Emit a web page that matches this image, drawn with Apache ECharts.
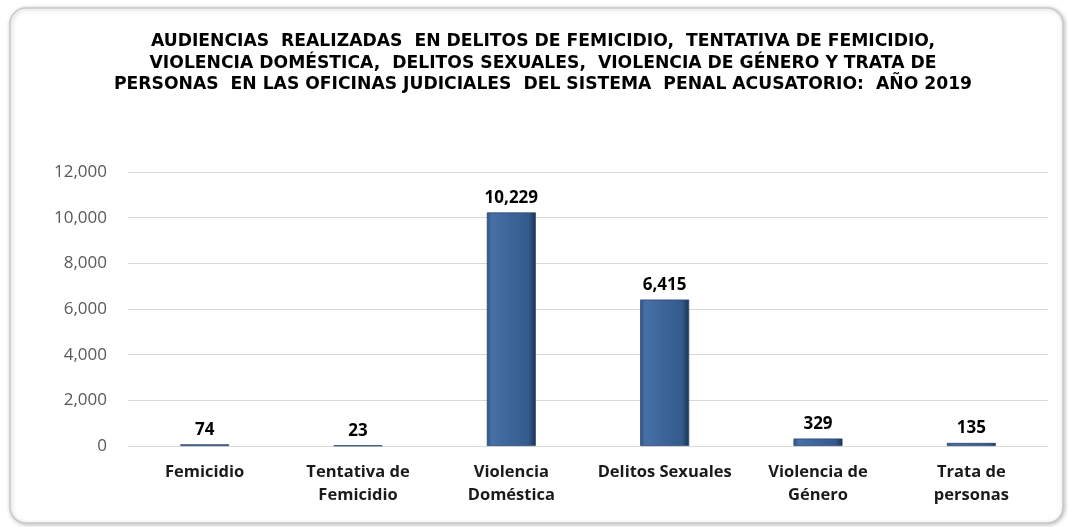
<!DOCTYPE html>
<html>
<head>
<meta charset="utf-8">
<script src="https://cdn.jsdelivr.net/npm/echarts@6/dist/echarts.min.js"></script>
<style>
  html, body { margin: 0; padding: 0; background: #fff; }
  #chart { width: 1068px; height: 527px; }
</style>
</head>
<body>
<div id="chart"></div>
<script>
const categories = ['Femicidio', 'Tentativa de\nFemicidio', 'Violencia\nDoméstica', 'Delitos Sexuales', 'Violencia de\nGénero', 'Trata de\npersonas']
const audiencias = [74, 23, 10229, 6415, 329, 135]
const titleText = 'AUDIENCIAS  REALIZADAS  EN DELITOS DE FEMICIDIO,  TENTATIVA DE FEMICIDIO,\nVIOLENCIA DOMÉSTICA,  DELITOS SEXUALES,  VIOLENCIA DE GÉNERO Y TRATA DE\nPERSONAS  EN LAS OFICINAS JUDICIALES  DEL SISTEMA  PENAL ACUSATORIO:  AÑO 2019'

const fmt = v => Number(v).toLocaleString('en-US')

const chart = echarts.init(document.getElementById('chart'), null, { renderer: 'canvas' })

const barColor = new echarts.graphic.LinearGradient(0, 0, 1, 0, [
  { offset: 0, color: '#2e5283' },
  { offset: 0.1, color: '#4670a6' },
  { offset: 0.5, color: '#3d6499' },
  { offset: 0.85, color: '#355b8c' },
  { offset: 1, color: '#1b3352' }
])

chart.setOption({
  backgroundColor: '#fff',
  animation: false,
  graphic: [{
    type: 'rect',
    z: -10,
    shape: { x: 10, y: 8, width: 1053, height: 515, r: 16 },
    style: {
      fill: '#fff',
      stroke: '#c9c9c9',
      lineWidth: 1.5,
      shadowBlur: 4,
      shadowOffsetX: 1,
      shadowOffsetY: 1,
      shadowColor: 'rgba(0,0,0,0.25)'
    }
  }],
  title: {
    text: titleText,
    left: 543,
    top: 0,
    textAlign: 'center',
    padding: [31, 0, 0, 0],
    textStyle: {
      fontFamily: 'DejaVu Sans',
      fontWeight: 'bold',
      fontSize: 17.2,
      lineHeight: 21.5,
      color: '#000'
    }
  },
  grid: { left: 128, right: 20, top: 172, bottom: 81, containLabel: false },
  xAxis: {
    type: 'category',
    data: categories,
    axisLine: { lineStyle: { color: '#d9d9d9', width: 1 } },
    axisTick: { show: false },
    axisLabel: {
      interval: 0,
      margin: 15,
      fontFamily: 'Open Sans',
      fontWeight: 'bold',
      fontSize: 16.5,
      lineHeight: 23,
      color: '#1a1a1a'
    }
  },
  yAxis: {
    type: 'value',
    min: 0,
    max: 12000,
    interval: 2000,
    axisLine: { show: false },
    axisTick: { show: false },
    splitLine: { lineStyle: { color: '#d9d9d9', width: 1 } },
    axisLabel: {
      margin: 21,
      fontFamily: 'Open Sans',
      fontSize: 17,
      color: '#595959',
      formatter: fmt
    }
  },
  series: [{
    type: 'bar',
    data: audiencias,
    barWidth: 49,
    itemStyle: {
      color: barColor,
      borderColor: '#2a4670',
      borderWidth: 0.8
    },
    label: {
      show: true,
      position: 'top',
      distance: 6,
      fontFamily: 'Open Sans',
      fontWeight: 'bold',
      fontSize: 17,
      color: '#000',
      formatter: p => fmt(p.value)
    }
  }]
})
</script>
</body>
</html>
